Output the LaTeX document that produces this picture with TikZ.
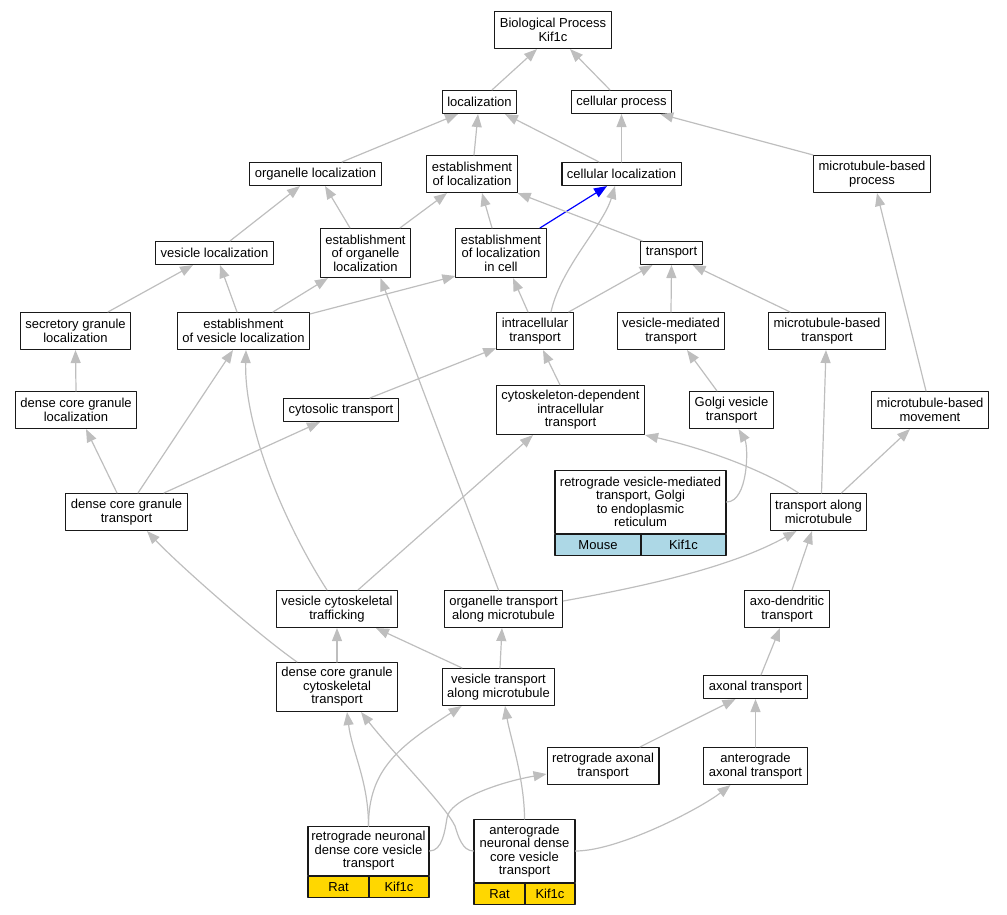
\documentclass[tikz,border=0pt]{standalone}
\usepackage{fontspec}
\setmainfont{Liberation Sans}
\usetikzlibrary{arrows.meta}
\definecolor{edgegray}{HTML}{BEBEBE}
\definecolor{mouseblue}{HTML}{ADD8E6}
\definecolor{ratgold}{HTML}{FFD700}

\begin{document}
\begin{tikzpicture}[x=1pt,y=-1pt,line cap=round,line join=round,
  term/.style={draw=black!90,line width=1.1pt,rectangle,align=center,
    font=\fontsize{13}{13.5}\selectfont,inner xsep=5pt,inner ysep=1pt,minimum height=23pt},
  lines2/.style={minimum height=37pt},
  lines3/.style={minimum height=49pt},
  record/.style={term,inner xsep=3pt},
  cell/.style={term,minimum height=21pt},
  isa/.style={draw=edgegray,line width=1.2pt,-{Triangle[length=13pt,width=10pt]}}]
\useasboundingbox (0,0) rectangle (1007,915);

\node[term,lines2] (bp) at (553,30) {Biological Process\\Kif1c};
\node[term] (loc) at (479.5,102) {localization};
\node[term] (cp) at (621.5,102) {cellular process};
\node[term] (orgloc) at (315.5,174) {organelle localization};
\node[term,lines2] (estloc) at (472,174) {establishment\\of localization};
\node[term] (cellloc) at (621.5,174) {cellular localization};
\node[term,lines2] (mtproc) at (872,174) {microtubule-based\\process};
\node[term] (vesloc) at (214.5,253) {vesicle localization};
\node[term,lines3] (estorgloc) at (365.5,253) {establishment\\of organelle\\localization};
\node[term,lines3] (estlocell) at (501,253) {establishment\\of localization\\in cell};
\node[term] (transp) at (671.5,253) {transport};
\node[term,lines2] (secgran) at (75.5,331) {secretory granule\\localization};
\node[term,lines2] (estvesloc) at (243.5,331) {establishment\\of vesicle localization};
\node[term,lines2] (intra) at (535,331) {intracellular\\transport};
\node[term,lines2] (vesmed) at (671,331) {vesicle-mediated\\transport};
\node[term,lines2] (mtbt) at (827,331) {microtubule-based\\transport};
\node[term,lines2] (dcgl) at (76,410) {dense core granule\\localization};
\node[term] (cytosol) at (341,410) {cytosolic transport};
\node[term,lines3] (cytodep) at (570.5,410) {cytoskeleton-dependent\\intracellular\\transport};
\node[term,lines2] (golgi) at (731.5,410) {Golgi vesicle\\transport};
\node[term,lines2] (mtmove) at (930,410) {microtubule-based\\movement};
\node[term,lines2] (dcgt) at (126.5,512) {dense core granule\\transport};
\node[record,minimum width=171pt,minimum height=63pt] (retroves) at (640.5,502) {retrograde vesicle-mediated\\transport, Golgi\\to endoplasmic\\reticulum};
\node[cell,fill=mouseblue,minimum width=86pt,anchor=north west] (retrovesS) at (retroves.south west) {Mouse};
\node[cell,fill=mouseblue,minimum width=85pt,anchor=north east] (retrovesG) at (retroves.south east) {Kif1c};
\node[term,lines2] (tam) at (818.5,512) {transport along\\microtubule};
\node[term,lines2] (vct) at (337,609) {vesicle cytoskeletal\\trafficking};
\node[term,lines2] (orgtam) at (503.5,609) {organelle transport\\along microtubule};
\node[term,lines2] (axodend) at (787,609) {axo-dendritic\\transport};
\node[term,lines3] (dcgct) at (337,687) {dense core granule\\cytoskeletal\\transport};
\node[term,lines2] (vtam) at (498.5,687) {vesicle transport\\along microtubule};
\node[term] (axonal) at (755.5,687) {axonal transport};
\node[term,lines2] (retroax) at (603,766) {retrograde axonal\\transport};
\node[term,lines2] (antax) at (755.5,766) {anterograde\\axonal transport};
\node[record,minimum width=121pt,minimum height=49pt] (retroneur) at (368.5,851) {retrograde neuronal\\dense core vesicle\\transport};
\node[cell,fill=ratgold,minimum width=61pt,anchor=north west] (retroneurS) at (retroneur.south west) {Rat};
\node[cell,fill=ratgold,minimum width=60pt,anchor=north east] (retroneurG) at (retroneur.south east) {Kif1c};
\node[record,minimum width=101pt,minimum height=63pt] (antneur) at (524.5,851) {anterograde\\neuronal dense\\core vesicle\\transport};
\node[cell,fill=ratgold,minimum width=51pt,anchor=north west] (antneurS) at (antneur.south west) {Rat};
\node[cell,fill=ratgold,minimum width=50pt,anchor=north east] (antneurG) at (antneur.south east) {Kif1c};
\coordinate (retroneurbend) at (447,818);
\coordinate (antneurbend) at (455,826);

\draw[isa] ([xshift=12.5pt]loc.north) -- ([xshift=-16pt]bp.south);
\draw[isa] ([xshift=-11.5pt]cp.north) -- ([xshift=17pt]bp.south);
\draw[isa] ([xshift=26.5pt]orgloc.north) -- ([xshift=-21.5pt]loc.south);
\draw[isa] ([xshift=2pt]estloc.north) -- ([xshift=-1.5pt]loc.south);
\draw[isa] ([xshift=-22.5pt]cellloc.north) -- ([xshift=25.5pt]loc.south);
\draw[isa] (cellloc.north) -- (cp.south);
\draw[isa] (mtproc.north west) -- ([xshift=-12pt]cp.south east);
\draw[isa] ([xshift=15.5pt]vesloc.north) -- ([xshift=-15.5pt]orgloc.south);
\draw[isa] ([xshift=-15.5pt]estorgloc.north) -- ([xshift=9.5pt]orgloc.south);
\draw[isa] ([xshift=34.5pt]estorgloc.north) -- ([xshift=-25pt]estloc.south);
\draw[isa] ([xshift=-9pt]estlocell.north) -- ([xshift=10pt]estloc.south);
\draw[isa,draw=blue] ([xshift=39pt]estlocell.north) -- ([xshift=-14.5pt]cellloc.south);
\draw[isa] ([xshift=2pt]transp.north west) -- (estloc.south east);
\draw[isa] ([xshift=32.5pt]secgran.north) -- ([xshift=-21.5pt]vesloc.south);
\draw[isa] ([xshift=-6.5pt]estvesloc.north) -- ([xshift=5.5pt]vesloc.south);
\draw[isa] ([xshift=29.5pt]estvesloc.north) -- ([xshift=-37.5pt]estorgloc.south);
\draw[isa] ([yshift=-2pt]estvesloc.north east) -- ([yshift=2pt]estlocell.south west);
\draw[isa] ([xshift=-7pt]intra.north) -- ([xshift=12pt]estlocell.south);
\draw[isa] ([xshift=16pt]intra.north) .. controls +(10,-45) and +(-12,40) .. ([xshift=-6.5pt]cellloc.south);
\draw[isa] ([xshift=-5pt]intra.north east) -- ([xshift=-19pt]transp.south);
\draw[isa] (vesmed.north) -- (transp.south);
\draw[isa] ([xshift=-37pt]mtbt.north) -- ([xshift=21pt]transp.south);
\draw[isa] (dcgl.north) -- (secgran.south);
\draw[isa] ([xshift=-9.5pt]dcgt.north) -- ([xshift=10pt]dcgl.south);
\draw[isa] ([xshift=11.5pt]dcgt.north) -- ([xshift=-10.5pt]estvesloc.south);
\draw[isa] ([xshift=37.5pt]dcgt.north) -- ([xshift=-21pt]cytosol.south);
\draw[isa] ([xshift=29pt]cytosol.north) -- ([yshift=2pt]intra.south west);
\draw[isa] ([xshift=-10.5pt]cytodep.north) -- ([xshift=8pt]intra.south);
\draw[isa] ([xshift=-14.5pt]golgi.north) -- ([xshift=16pt]vesmed.south);
\draw[isa] ([xshift=-4pt]mtmove.north) -- ([xshift=5pt]mtproc.south);
\draw[isa] (retroves.east) .. controls +(22,0) and +(10,17) .. ([xshift=7pt]golgi.south);
\draw[isa] ([xshift=-20pt]tam.north) .. controls +(-30,-20) and +(66,15) .. (cytodep.south east);
\draw[isa] ([xshift=3pt]tam.north) -- ([xshift=-1pt]mtbt.south);
\draw[isa] ([xshift=23pt]tam.north) -- ([xshift=-20pt]mtmove.south);
\draw[isa] ([xshift=-10pt]vct.north) .. controls +(-40,-62) and +(-2,80) .. ([xshift=2.5pt]estvesloc.south);
\draw[isa] ([xshift=21pt]vct.north) -- ([xshift=-37.5pt]cytodep.south);
\draw[isa] ([xshift=-5pt]orgtam.north) -- ([xshift=15pt]estorgloc.south);
\draw[isa] ([yshift=8pt]orgtam.east) .. controls +(100,-18) and +(-60,33) .. ([xshift=-22pt]tam.south);
\draw[isa] ([xshift=5pt]axodend.north) -- ([xshift=-6.5pt]tam.south);
\draw[isa] ([xshift=-40pt]dcgct.north) .. controls +(-40,-28) and +(30,32) .. ([xshift=20.5pt]dcgt.south);
\draw[isa] (dcgct.north) -- (vct.south);
\draw[isa] ([xshift=-36.5pt]vtam.north) -- ([xshift=39pt]vct.south);
\draw[isa] ([xshift=1.5pt]vtam.north) -- ([xshift=-1.5pt]orgtam.south);
\draw[isa] ([xshift=5.5pt]axonal.north) -- ([xshift=-7pt]axodend.south);
\draw[isa] ([xshift=37pt]retroax.north) -- ([xshift=-20pt]axonal.south);
\draw[isa] (antax.north) -- (axonal.south);
\draw[isa] (retroneur.north) .. controls +(0,-45) and +(5,40) .. ([xshift=10pt]dcgct.south);
\draw[isa] (retroneur.north) .. controls +(0,-57) and +(-62,40) .. ([xshift=20pt]vtam.south west);
\draw[isa] (retroneur.east) .. controls +(13,0) and +(-2,12) .. (retroneurbend)
    .. controls +(2,-18) and +(-47,8) .. ([yshift=-8pt]retroax.west);
\draw[isa] (antneur.west) .. controls +(-11,0) and +(3,10) .. (antneurbend)
    .. controls +(-10,-21) and +(33,42) .. ([xshift=24pt]dcgct.south);
\draw[isa] (antneur.north) .. controls +(0,-40) and +(5,30) .. ([xshift=6.5pt]vtam.south);
\draw[isa] (antneur.east) .. controls +(43,0) and +(-31,24) .. ([xshift=-25pt]antax.south);
\end{tikzpicture}
\end{document}
